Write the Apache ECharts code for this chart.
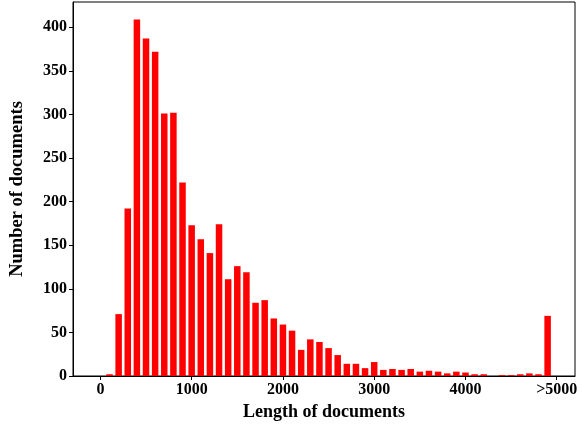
<!DOCTYPE html>
<html>
<head>
<meta charset="UTF-8">
<title>Length of documents</title>
<script src="https://cdn.jsdelivr.net/npm/echarts@6/dist/echarts.min.js"></script>
<style>
  html, body { margin: 0; padding: 0; background: #fff; }
</style>
</head>
<body>
<div id="main" style="width: 582px; height: 429px;"></div>
<script type="text/javascript">
// bin centres (length of documents) and counts per bin
var binCenters = [100, 200, 300, 400, 500, 600, 700, 800, 900, 1000,
                  1100, 1200, 1300, 1400, 1500, 1600, 1700, 1800, 1900, 2000,
                  2100, 2200, 2300, 2400, 2500, 2600, 2700, 2800, 2900, 3000,
                  3100, 3200, 3300, 3400, 3500, 3600, 3700, 3800, 3900, 4000,
                  4100, 4200, 4300, 4400, 4500, 4600, 4700, 4800, 4900];
var counts = [2, 71, 192, 409, 387, 372, 301, 302, 222, 173,
              157, 141, 174, 111, 126, 119, 84, 87, 66, 59,
              52, 30, 42, 39, 32, 24, 14, 14, 9, 16,
              7, 8, 7, 8, 5, 6, 5, 3, 5, 4,
              2, 2, 0, 1, 1, 2, 3, 2, 69];
var xTicks = [0, 1000, 2000, 3000, 4000, 5000];
var xTickLabels = ['0', '1000', '2000', '3000', '4000', '>5000'];
var yTicks = [0, 50, 100, 150, 200, 250, 300, 350, 400];

var font = '"Liberation Serif", "Times New Roman", serif';
var myChart = echarts.init(document.getElementById('main'), null, {renderer: 'canvas'});

var barData = [];
for (var i = 0; i < binCenters.length; i++) {
    barData.push([binCenters[i], counts[i]]);
}

var option = {
    animation: false,
    grid: {
        left: 73, top: 2, right: 7, bottom: 53,
        show: true,
        borderColor: '#000',
        borderWidth: 1,
        backgroundColor: 'transparent',
        outerBoundsMode: 'none'
    },
    xAxis: {
        type: 'value',
        min: -300,
        max: 5200,
        name: 'Length of documents',
        nameLocation: 'middle',
        nameGap: 27,
        nameTextStyle: { fontFamily: font, fontWeight: 'bold', fontSize: 18, color: '#000' },
        axisLine: { show: true, onZero: false, lineStyle: { color: '#000', width: 1 } },
        axisTick: { show: true, length: 4, customValues: xTicks, lineStyle: { color: '#000' } },
        axisLabel: {
            customValues: xTicks,
            margin: 6,
            fontFamily: font, fontWeight: 'bold', fontSize: 16, color: '#000',
            formatter: function (v) {
                return xTickLabels[xTicks.indexOf(v)];
            }
        },
        splitLine: { show: false }
    },
    yAxis: {
        type: 'value',
        min: 0,
        max: 429,
        name: 'Number of documents',
        nameLocation: 'middle',
        nameGap: 46,
        nameTextStyle: { fontFamily: font, fontWeight: 'bold', fontSize: 18.5, color: '#000' },
        axisLine: { show: true, onZero: false, lineStyle: { color: '#000', width: 1 } },
        axisTick: { show: true, length: 4, customValues: yTicks, lineStyle: { color: '#000' } },
        axisLabel: {
            customValues: yTicks,
            margin: 6,
            fontFamily: font, fontWeight: 'bold', fontSize: 16, color: '#000'
        },
        splitLine: { show: false }
    },
    series: [{
        type: 'bar',
        data: barData,
        barWidth: 6.5,
        itemStyle: { color: '#ff0000' }
    }]
};
myChart.setOption(option);
</script>
</body>
</html>
